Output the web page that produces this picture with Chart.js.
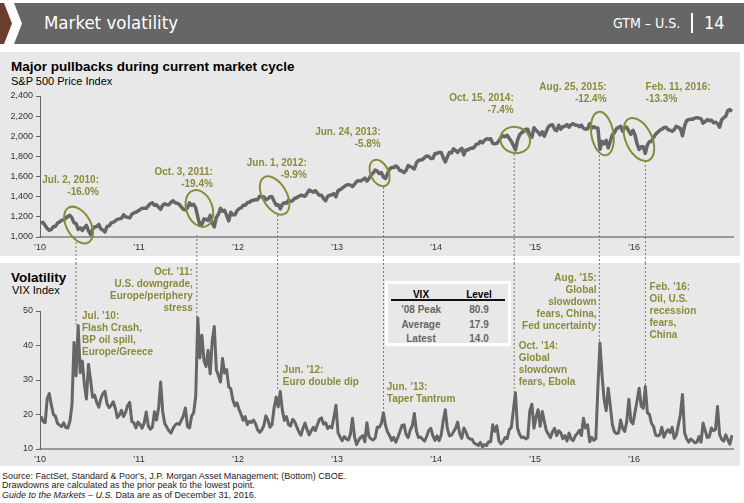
<!DOCTYPE html>
<html>
<head>
<meta charset="utf-8">
<script src="https://cdn.jsdelivr.net/npm/chart.js@4/dist/chart.umd.min.js"></script>
<style>
  body { margin: 0; width: 744px; height: 503px; overflow: hidden; position: relative; background: #fff;
         font-family: "Liberation Sans", Arial, sans-serif; }
  .abs { position: absolute; }
  #brown { left: 0; top: 3px; width: 12px; height: 41px; background: #6b3d2e;
           clip-path: polygon(0 0, 4px 0, 12px 50%, 4px 100%, 0 100%); }
  #bar { left: 14px; top: 3px; width: 730px; height: 41px; background: #666;
         clip-path: polygon(0 0, 100% 0, 100% 100%, 0 100%, 8px 50%); }
  .hdr { color: #fff; font-family: "DejaVu Sans Condensed", "DejaVu Sans", sans-serif; font-stretch: condensed;
         line-height: 1; white-space: nowrap; }
  .panel { background: #e8e8e8; }
  .ttl { font-weight: bold; font-size: 13.5px; line-height: 1; color: #000; white-space: nowrap; }
  .sub { font-size: 11px; line-height: 1; color: #000; white-space: nowrap; }
  .note { font-size: 9px; line-height: 1; color: #222; white-space: nowrap; left: 2px; }
  #vixbox { left: 385px; top: 281px; width: 126px; height: 65px; box-sizing: border-box;
            border: 3px solid #fff; background: #e8e8e8; }
  .cell { position: absolute; font-size: 10px; font-weight: bold; line-height: 1; text-align: center; width: 60px; }
</style>
</head>
<body>
<div id="brown" class="abs"></div>
<div id="bar" class="abs"></div>
<div class="abs hdr" style="left:44px; top:14px; font-size:18.5px;">Market volatility</div>
<div class="abs hdr" style="left:613px; top:16px; font-size:14px;">GTM – U.S.</div>
<div class="abs" style="left:691px; top:13px; width:1.5px; height:20px; background:#fff;"></div>
<div class="abs hdr" style="left:704px; top:14px; font-size:18px;">14</div>

<div class="abs panel" style="left:0; top:52px; width:740px; height:204px;"></div>
<div class="abs panel" style="left:0; top:263px; width:740px; height:203px;"></div>

<div class="abs ttl" style="left:11px; top:60px;">Major pullbacks during current market cycle</div>
<div class="abs sub" style="left:11px; top:75.5px;">S&amp;P 500 Price Index</div>
<div class="abs ttl" style="left:11px; top:271px;">Volatility</div>
<div class="abs sub" style="left:12px; top:285px;">VIX Index</div>

<div class="abs" style="left:0; top:52px;"><canvas id="spxChart" width="744" height="211"></canvas></div>
<div class="abs" style="left:0; top:263px;"><canvas id="vixChart" width="744" height="204"></canvas></div>

<div id="vixbox" class="abs"></div>

<div class="abs note" style="top:471.5px;">Source: FactSet, Standard &amp; Poor's, J.P. Morgan Asset Management; (Bottom) CBOE.</div>
<div class="abs note" style="top:481px;">Drawdowns are calculated as the prior peak to the lowest point.</div>
<div class="abs note" style="top:490.5px;"><i>Guide to the Markets – U.S.</i> Data are as of December 31, 2016.</div>

<script>
// ---- data ----
// S&P 500, four readings per month, Jan 2010 - Dec 2016
const spxValues = [
  1137, 1145, 1115, 1085, 1066, 1075, 1105, 1105, 1138, 1150, 1166, 1170, 1187, 1205, 1215, 1190, 1140, 1135, 1075, 1090, 1065, 1095, 1115, 1060,
  1025, 1075, 1100, 1105, 1125, 1080, 1070, 1050, 1105, 1110, 1140, 1145, 1160, 1175, 1180, 1185, 1220, 1200, 1195, 1190, 1225, 1240, 1245, 1258,
  1272, 1285, 1285, 1285, 1310, 1330, 1340, 1315, 1320, 1295, 1275, 1315, 1330, 1320, 1320, 1345, 1360, 1340, 1335, 1325, 1300, 1275, 1270, 1290,
  1340, 1315, 1325, 1290, 1200, 1120, 1125, 1180, 1175, 1165, 1215, 1135, 1100, 1195, 1225, 1285, 1255, 1265, 1215, 1160, 1245, 1220, 1220, 1260,
  1280, 1290, 1315, 1315, 1340, 1345, 1360, 1365, 1370, 1370, 1405, 1400, 1400, 1370, 1380, 1400, 1400, 1355, 1315, 1320, 1280, 1325, 1340, 1335,
  1365, 1355, 1360, 1385, 1390, 1405, 1415, 1410, 1405, 1435, 1465, 1455, 1445, 1460, 1435, 1415, 1415, 1380, 1360, 1405, 1415, 1420, 1430, 1400,
  1460, 1470, 1485, 1500, 1515, 1520, 1515, 1500, 1525, 1550, 1560, 1555, 1570, 1585, 1555, 1580, 1615, 1635, 1665, 1655, 1630, 1640, 1595, 1580,
  1630, 1675, 1690, 1690, 1705, 1690, 1660, 1655, 1640, 1660, 1710, 1700, 1690, 1675, 1735, 1760, 1765, 1770, 1790, 1805, 1800, 1780, 1780, 1830,
  1830, 1840, 1840, 1790, 1745, 1795, 1840, 1835, 1875, 1860, 1840, 1865, 1880, 1815, 1865, 1865, 1880, 1880, 1890, 1920, 1925, 1950, 1935, 1960,
  1975, 1970, 1975, 1930, 1925, 1930, 1955, 1990, 2005, 1995, 2010, 1980, 1950, 1910, 1865, 1960, 2015, 2035, 2050, 2070, 2070, 2005, 1990, 2085,
  2060, 2040, 2015, 2045, 2000, 2050, 2095, 2110, 2115, 2070, 2055, 2110, 2070, 2095, 2100, 2115, 2090, 2115, 2125, 2110, 2110, 2095, 2110, 2080,
  2070, 2075, 2125, 2080, 2095, 2085, 2080, 1870, 1950, 1925, 1960, 1885, 1950, 2015, 2035, 2075, 2090, 2100, 2050, 2090, 2090, 2050, 2020, 2060,
  2010, 1925, 1870, 1895, 1895, 1830, 1915, 1945, 1950, 1990, 2020, 2040, 2060, 2070, 2085, 2090, 2065, 2060, 2050, 2065, 2100, 2090, 2075, 2005,
  2100, 2155, 2165, 2170, 2170, 2180, 2185, 2180, 2175, 2130, 2145, 2165, 2155, 2160, 2135, 2140, 2125, 2090, 2165, 2185, 2200, 2255, 2265, 2245
];
// VIX, four readings per month, Jan 2010 - Dec 2016
const vixValues = [
  19.5, 18.0, 17.6, 24.6, 26.1, 22.7, 20.0, 19.5, 17.4, 16.9, 16.5, 17.6, 16.2, 16.1, 18.0, 22.8, 40.9, 31.2, 45.8, 32.1, 35.5, 28.8, 24.5, 34.5,
  30.1, 25.0, 25.6, 23.5, 22.1, 24.6, 26.1, 26.7, 23.1, 22.0, 22.7, 23.7, 21.8, 19.1, 19.9, 21.2, 19.4, 20.6, 22.6, 23.5, 18.0, 17.6, 16.1, 17.8,
  17.1, 16.0, 17.5, 20.7, 16.7, 15.7, 16.4, 20.8, 18.4, 21.9, 29.4, 20.7, 17.4, 16.3, 15.3, 14.6, 16.0, 16.9, 17.4, 17.1, 18.3, 19.6, 21.9, 16.5,
  16.1, 19.5, 20.5, 25.3, 48.0, 36.4, 43.0, 35.6, 33.9, 38.6, 31.8, 41.3, 45.5, 33.0, 31.3, 29.4, 36.2, 32.0, 33.0, 28.0, 27.5, 24.3, 22.5, 23.4,
  21.5, 20.0, 18.3, 19.4, 17.1, 18.0, 17.7, 18.4, 17.3, 15.6, 14.8, 15.5, 16.7, 19.6, 18.4, 16.3, 17.1, 21.9, 25.1, 22.2, 26.7, 21.2, 18.3, 19.4,
  17.1, 16.7, 18.6, 17.9, 16.4, 15.0, 14.0, 16.0, 17.5, 15.6, 14.1, 15.3, 16.3, 15.3, 17.1, 18.6, 19.0, 17.2, 17.6, 15.9, 16.6, 16.1, 19.2, 22.7,
  14.7, 13.5, 12.4, 13.6, 12.9, 12.6, 14.3, 18.9, 13.5, 11.3, 12.6, 13.4, 13.9, 12.1, 17.6, 13.6, 12.9, 12.6, 13.2, 16.3, 16.3, 17.4, 20.5, 16.9,
  14.9, 13.9, 12.5, 13.4, 12.0, 13.4, 15.1, 16.8, 17.0, 14.2, 13.3, 15.5, 16.7, 20.3, 15.2, 13.3, 13.5, 12.8, 12.3, 13.7, 15.4, 16.0, 13.8, 12.5,
  13.8, 12.4, 14.0, 18.1, 21.4, 16.0, 13.8, 14.0, 15.0, 16.0, 17.8, 14.4, 13.1, 16.1, 15.0, 13.3, 12.9, 12.8, 11.7, 11.4, 11.0, 11.9, 10.6, 11.3,
  11.0, 12.1, 12.1, 17.0, 15.1, 16.7, 12.4, 11.5, 12.1, 13.3, 13.0, 15.6, 16.2, 21.2, 26.3, 16.1, 14.3, 13.3, 13.5, 12.9, 13.3, 21.1, 23.0, 16.0,
  19.2, 21.4, 16.6, 20.9, 18.0, 15.3, 14.3, 13.3, 15.0, 16.0, 13.9, 15.3, 14.7, 13.0, 13.9, 12.3, 14.6, 12.9, 12.4, 13.8, 14.5, 15.4, 13.9, 18.9,
  16.1, 17.0, 12.1, 13.4, 12.5, 13.0, 28.0, 40.7, 31.4, 24.4, 21.1, 27.6, 22.5, 17.1, 15.0, 14.5, 14.6, 18.4, 16.0, 15.1, 18.0, 24.4, 18.0, 17.3,
  20.7, 24.0, 27.6, 22.4, 21.8, 28.1, 20.5, 20.0, 17.4, 16.5, 14.0, 13.8, 14.1, 16.3, 13.4, 14.8, 15.6, 14.7, 16.3, 13.1, 14.0, 17.0, 20.0, 25.8,
  14.8, 13.0, 12.0, 12.9, 12.4, 11.8, 12.0, 13.6, 12.0, 17.5, 15.4, 13.3, 13.5, 16.1, 15.3, 15.6, 22.3, 14.2, 12.8, 12.3, 14.1, 12.6, 11.4, 14.0
];
const yearLabels = ["’10", "’11", "’12", "’13", "’14", "’15", "’16"];
const spxTicks = [1000, 1200, 1400, 1600, 1800, 2000, 2200, 2400];
const spxTickLabels = ["1,000", "1,200", "1,400", "1,600", "1,800", "2,000", "2,200", "2,400"];
const vixTicks = [10, 20, 30, 40, 50];
const vixTableRows = ["’08 Peak", "Average", "Latest"];
const vixTableLevels = ["80.9", "17.9", "14.0"];

// pullback markers: ellipse on the S&P line, dotted drop line to the VIX spike
const pullbacks = [
  { label: "Jul. 2, 2010:",  pct: "-16.0%", cx: 2010.39, cy: 1119, rx: 20, ry: 12, rot: 60, lineX: 2010.363, lineTop: 950,  vixEnd: 46,   tx: 2010.596, ty: 1566, align: "right" },
  { label: "Oct. 3, 2011:",  pct: "-19.4%", cx: 2011.61, cy: 1283, rx: 19, ry: 13, rot: 70, lineX: 2011.584, lineTop: 1020, vixEnd: 48,   tx: 2011.746, ty: 1645, align: "right" },
  { label: "Jun. 1, 2012:",  pct: "-9.9%",  cx: 2012.37, cy: 1412, rx: 21, ry: 12, rot: 60, lineX: 2012.40,  lineTop: 1218, vixEnd: 27,   tx: 2012.695, ty: 1735, align: "right" },
  { label: "Jun. 24, 2013:", pct: "-5.8%",  cx: 2013.43, cy: 1635, rx: 14, ry: 9,  rot: 65, lineX: 2013.47,  lineTop: 1496, vixEnd: 21,   tx: 2013.442, ty: 2043, align: "right" },
  { label: "Oct. 15, 2014:", pct: "-7.4%",  cx: 2014.80, cy: 1963, rx: 15, ry: 13, rot: 15, lineX: 2014.79,  lineTop: 1824, vixEnd: 26.5, tx: 2014.785, ty: 2380, align: "right" },
  { label: "Aug. 25, 2015:", pct: "-12.4%", cx: 2015.68, cy: 2027, rx: 22, ry: 11, rot: 80, lineX: 2015.65,  lineTop: 1814, vixEnd: 40.7, tx: 2015.723, ty: 2489, align: "right" },
  { label: "Feb. 11, 2016:", pct: "-13.3%", cx: 2016.05, cy: 1968, rx: 23, ry: 13, rot: 65, lineX: 2016.115, lineTop: 1755, vixEnd: 28,   tx: 2016.117, ty: 2489, align: "left" }
];
const vixNotes = [
  { x: 2010.424, y: 48.6, align: "left",  lines: ["Jul. ’10:", "Flash Crash,", "BP oil spill,", "Europe/Greece"] },
  { x: 2011.544, y: 61.3, align: "right", lines: ["Oct. ’11:", "U.S. downgrade,", "Europe/periphery", "stress"] },
  { x: 2012.453, y: 32.9, align: "left",  lines: ["Jun. ’12:", "Euro double dip"] },
  { x: 2013.503, y: 28.0, align: "left",  lines: ["Jun. ’13:", "Taper Tantrum"] },
  { x: 2014.835, y: 39.9, align: "left",  lines: ["Oct. ’14:", "Global", "slowdown", "fears, Ebola"] },
  { x: 2015.622, y: 59.6, align: "right", lines: ["Aug. ’15:", "Global", "slowdown", "fears, China,", "Fed uncertainty"] },
  { x: 2016.157, y: 57.0, align: "left",  lines: ["Feb. ’16:", "Oil, U.S.", "recession", "fears,", "China"] }
];

const OLIVE = "#8a8a3c";
const LINE = "#666";
const NOTE_FONT = 'bold 10px "Liberation Sans", Arial, sans-serif';
const TICK_FONT = { family: '"Liberation Sans", Arial, sans-serif', size: 9 };

// vix summary table
const box = document.getElementById("vixbox");
function cell(text, left, top, color) {
  const d = document.createElement("div");
  d.className = "cell";
  d.textContent = text;
  d.style.left = left + "px";
  d.style.top = top + "px";
  d.style.color = color;
  box.appendChild(d);
}
cell("VIX", 3, 6, "#000");
cell("Level", 61, 6, "#000");
const rule = document.createElement("div");
rule.style.cssText = "position:absolute;left:3px;top:15px;width:114px;height:1.5px;background:#111;";
box.appendChild(rule);
vixTableRows.forEach((r, i) => {
  cell(r, 3, 21 + i * 14.5, "#666");
  cell(vixTableLevels[i], 61, 21 + i * 14.5, "#666");
});

function xScale(fitH) {
  return {
    type: "linear", min: 2010, max: 2017,
    grid: { display: true, drawOnChartArea: false, drawTicks: false },
    border: { color: "#999", width: 2 },
    ticks: {
      stepSize: 1, padding: 5, autoSkip: false, maxRotation: 0, color: "#333", font: TICK_FONT,
      callback: v => yearLabels[Math.round(v) - 2010] || ""
    },
    afterFit: s => { s.height = fitH; }
  };
}

const pullbackPlugin = {
  id: "pullbacks",
  afterDatasetsDraw(chart) {
    const { ctx } = chart;
    const xs = chart.scales.x, ys = chart.scales.y;
    ctx.save();
    pullbacks.forEach(p => {
      // dotted drop line
      const lx = xs.getPixelForValue(p.lineX);
      ctx.setLineDash([2, 2]);
      ctx.strokeStyle = "#777";
      ctx.lineWidth = 1;
      ctx.beginPath();
      ctx.moveTo(lx, ys.getPixelForValue(p.lineTop));
      ctx.lineTo(lx, chart.height);
      ctx.stroke();
      ctx.setLineDash([]);
      // ellipse
      ctx.strokeStyle = OLIVE;
      ctx.lineWidth = 2;
      ctx.beginPath();
      ctx.ellipse(xs.getPixelForValue(p.cx), ys.getPixelForValue(p.cy), p.rx, p.ry, p.rot * Math.PI / 180, 0, 2 * Math.PI);
      ctx.stroke();
      // label
      ctx.font = NOTE_FONT;
      ctx.fillStyle = OLIVE;
      ctx.textAlign = p.align;
      ctx.textBaseline = "middle";
      const tx = xs.getPixelForValue(p.tx), ty = ys.getPixelForValue(p.ty);
      ctx.fillText(p.label, tx, ty);
      ctx.fillText(p.pct, tx, ty + 12);
    });
    ctx.restore();
  }
};

const vixPlugin = {
  id: "vixNotes",
  beforeDatasetsDraw(chart) {
    const { ctx } = chart;
    const xs = chart.scales.x, ys = chart.scales.y;
    ctx.save();
    ctx.setLineDash([2, 2]);
    ctx.strokeStyle = "#777";
    ctx.lineWidth = 1;
    pullbacks.forEach(p => {
      const lx = xs.getPixelForValue(p.lineX);
      ctx.beginPath();
      ctx.moveTo(lx, 0);
      ctx.lineTo(lx, ys.getPixelForValue(p.vixEnd));
      ctx.stroke();
    });
    ctx.restore();
  },
  afterDatasetsDraw(chart) {
    const { ctx } = chart;
    const xs = chart.scales.x, ys = chart.scales.y;
    ctx.save();
    ctx.font = NOTE_FONT;
    ctx.fillStyle = OLIVE;
    ctx.textBaseline = "middle";
    vixNotes.forEach(n => {
      ctx.textAlign = n.align;
      const tx = xs.getPixelForValue(n.x), ty = ys.getPixelForValue(n.y);
      n.lines.forEach((l, i) => ctx.fillText(l, tx, ty + i * 12.2));
    });
    ctx.restore();
  }
};

new Chart(document.getElementById("spxChart").getContext("2d"), {
  type: "line",
  data: {
    datasets: [{
      data: spxValues.map((v, i) => ({ x: 2010 + (i + 0.5) / 48, y: v })),
      borderColor: LINE, borderWidth: 3.5, pointRadius: 0, borderJoinStyle: "round", tension: 0
    }]
  },
  options: {
    responsive: false, animation: false,
    layout: { padding: { left: 0, right: 11, top: 44, bottom: 0 } },
    plugins: { legend: { display: false }, tooltip: { enabled: false } },
    scales: {
      x: xScale(26),
      y: {
        min: 1000, max: 2400,
        afterBuildTicks: s => { s.ticks = spxTicks.map(v => ({ value: v })); },
        ticks: { padding: 3, color: "#333", font: TICK_FONT, callback: v => spxTickLabels[spxTicks.indexOf(v)] },
        grid: { drawOnChartArea: false, tickLength: 4, color: "#666" },
        border: { color: "#666" },
        afterFit: s => { s.width = 40; }
      }
    }
  },
  plugins: [pullbackPlugin]
});

new Chart(document.getElementById("vixChart").getContext("2d"), {
  type: "line",
  data: {
    datasets: [{
      data: vixValues.map((v, i) => ({ x: 2010 + (i + 0.5) / 48, y: v })),
      borderColor: LINE, borderWidth: 3, pointRadius: 0, borderJoinStyle: "round", tension: 0
    }]
  },
  options: {
    responsive: false, animation: false,
    layout: { padding: { left: 0, right: 11, top: 48, bottom: 0 } },
    plugins: { legend: { display: false }, tooltip: { enabled: false } },
    scales: {
      x: xScale(18),
      y: {
        min: 10, max: 50,
        afterBuildTicks: s => { s.ticks = vixTicks.map(v => ({ value: v })); },
        ticks: { padding: 3, color: "#333", font: TICK_FONT },
        grid: { drawOnChartArea: false, tickLength: 4, color: "#666" },
        border: { color: "#666" },
        afterFit: s => { s.width = 40; }
      }
    }
  },
  plugins: [vixPlugin]
});
</script>
</body>
</html>
